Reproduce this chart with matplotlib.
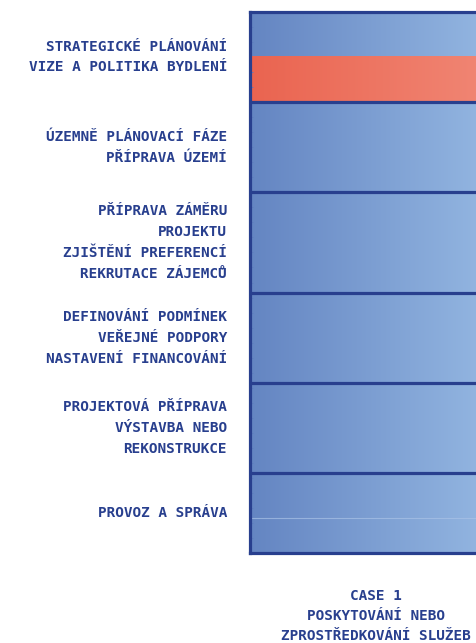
import numpy as np
import matplotlib.pyplot as plt
from matplotlib.colors import LinearSegmentedColormap
from matplotlib.transforms import blended_transform_factory

# stage labels (top to bottom) and their row edges in grid units
stage_labels = [
    "STRATEGICKÉ PLÁNOVÁNÍ\nVIZE A POLITIKA BYDLENÍ",
    "ÚZEMNĚ PLÁNOVACÍ FÁZE\nPŘÍPRAVA ÚZEMÍ",
    "PŘÍPRAVA ZÁMĚRU\nPROJEKTU\nZJIŠTĚNÍ PREFERENCÍ\nREKRUTACE ZÁJEMCŮ",
    "DEFINOVÁNÍ PODMÍNEK\nVEŘEJNÉ PODPORY\nNASTAVENÍ FINANCOVÁNÍ",
    "PROJEKTOVÁ PŘÍPRAVA\nVÝSTAVBA NEBO\nREKONSTRUKCE",
    "PROVOZ A SPRÁVA",
]
stage_edges = [0, 6, 12, 18.7, 24.7, 30.7, 36]
sub_lines = [33.7]
highlight = (3, 6)  # active part of the case column
case_label = "CASE 1\nPOSKYTOVÁNÍ NEBO\nZPROSTŘEDKOVÁNÍ SLUŽEB"

navy = "#283F8E"
blue_cmap = LinearSegmentedColormap.from_list("b", ["#6485C2", "#96B9E3"])
red_cmap = LinearSegmentedColormap.from_list("r", ["#EA6450", "#F18876"])

W, H = 477, 643
fig = plt.figure(figsize=(W / 100, H / 100), dpi=100)
ax = fig.add_axes([250 / W, 1 - 553 / H, 252 / W, 541 / H])

grad = np.linspace(0, 1, 256).reshape(1, -1)
ax.imshow(grad, cmap=blue_cmap, extent=(0, 1, stage_edges[-1], stage_edges[0]),
          aspect="auto", interpolation="bilinear")
ax.imshow(grad, cmap=red_cmap, extent=(0, 1, highlight[1], highlight[0]),
          aspect="auto", interpolation="bilinear")
ax.set_xlim(0, 1)
ax.set_ylim(stage_edges[-1], stage_edges[0])

for y in stage_edges[1:-1]:
    ax.axhline(y, color=navy, lw=2.3)
for y in sub_lines:
    ax.axhline(y, color="#A9C2E6", lw=0.8, alpha=0.7)

for s in ax.spines.values():
    s.set_color(navy)
    s.set_linewidth(2.3)
ax.spines["right"].set_visible(False)

ticks = [t for t in range(1, 36) if t not in (3, 6, 12)]
ax.set_yticks(ticks)
ax.tick_params(axis="y", direction="in", length=2.5, width=0.6,
               color="#5F7DBE", labelleft=False)
ax.set_xticks([])

trans = blended_transform_factory(fig.transFigure, ax.transData)
for lab, y0, y1 in zip(stage_labels, stage_edges[:-1], stage_edges[1:]):
    ax.text(227 / W, (y0 + y1) / 2, lab, transform=trans, ha="right",
            va="center", multialignment="right", color=navy,
            family="DejaVu Sans Mono", fontweight="bold", fontsize=10.4,
            linespacing=1.62)

fig.text(376 / W, 1 - 616 / H, case_label, ha="center", va="center",
         multialignment="center", color=navy, family="DejaVu Sans Mono",
         fontweight="bold", fontsize=10.4, linespacing=1.55)

fig.savefig("out.png", dpi=100)
